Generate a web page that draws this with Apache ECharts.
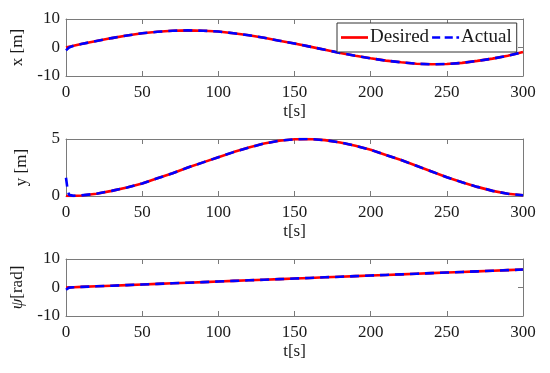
<!DOCTYPE html>
<html><head><meta charset="utf-8">
<script src="https://cdn.jsdelivr.net/npm/echarts@6/dist/echarts.min.js"></script>
<style>html,body{margin:0;padding:0;background:#fff}#c{width:550px;height:373px}</style>
</head><body><div id="c"></div>
<script>
const time = [0,1,2,3,5,10,20,30,40,50,60,70,80,90,100,110,120,130,140,150,160,170,180,190,200,210,220,230,240,250,260,270,280,290,300];
const xDesired = [0,0.12,0.24,0.36,0.6,1.2,2.3,3.3,4.2,5.0,5.5,5.9,6.0,5.9,5.6,5.0,4.3,3.4,2.4,1.4,0.3,-0.8,-1.9,-2.9,-3.8,-4.6,-5.2,-5.7,-5.9,-5.8,-5.4,-4.7,-3.9,-2.9,-1.6];
const xActual  = [-1.0,-0.4,0.0,0.3,0.6,1.2,2.3,3.3,4.2,5.0,5.5,5.9,6.0,5.9,5.6,5.0,4.3,3.4,2.4,1.4,0.3,-0.8,-1.9,-2.9,-3.8,-4.6,-5.2,-5.7,-5.9,-5.8,-5.4,-4.7,-3.9,-2.9,-1.6];
const yDesired = [0,0,0,0,0.01,0.05,0.2,0.45,0.75,1.1,1.55,2.0,2.5,2.95,3.4,3.85,4.25,4.6,4.85,4.98,5.0,4.9,4.7,4.4,4.05,3.6,3.15,2.65,2.15,1.65,1.2,0.8,0.45,0.2,0.07];
const yActual  = [1.6,0.6,0.1,0.02,0.01,0.05,0.2,0.45,0.75,1.1,1.55,2.0,2.5,2.95,3.4,3.85,4.25,4.6,4.85,4.98,5.0,4.9,4.7,4.4,4.05,3.6,3.15,2.65,2.15,1.65,1.2,0.8,0.45,0.2,0.07];
const psiDesired = [0,0.02,0.04,0.06,0.1,0.21,0.42,0.63,0.84,1.05,1.26,1.47,1.68,1.89,2.1,2.31,2.52,2.73,2.94,3.15,3.36,3.57,3.78,3.99,4.2,4.41,4.62,4.83,5.04,5.25,5.46,5.67,5.88,6.09,6.3];
const psiActual  = [-0.8,-0.3,-0.05,0.06,0.1,0.21,0.42,0.63,0.84,1.05,1.26,1.47,1.68,1.89,2.1,2.31,2.52,2.73,2.94,3.15,3.36,3.57,3.78,3.99,4.2,4.41,4.62,4.83,5.04,5.25,5.46,5.67,5.88,6.09,6.3];
const xTicks = [0,50,100,150,200,250,300];
const yLabels = ['x [m]','y [m]','{i|ψ}[rad]'];
const yRanges = [[-10,10,10],[0,5,5],[-10,10,10]];
const xLabel = 't[s]';
const legendNames = ['Desired','Actual'];

const FONT = 'Liberation Serif';
const FS = 17;
const axisCol = '#7a7a7a';
const txtCol = '#1a1a1a';
const tops = [19,139,259];
const grids = tops.map(t => ({left:66, right:27, top:t, height:57}));
const xAxes = [], yAxes = [], series = [];
const desiredSets = [xDesired, yDesired, psiDesired];
const actualSets = [xActual, yActual, psiActual];
const lineAx = {onZero:false,lineStyle:{color:axisCol,width:1}};
const tick = {show:true,inside:true,length:5,lineStyle:{color:axisCol}};
for (let i=0;i<3;i++){
  xAxes.push({gridIndex:i,type:'value',min:0,max:300,interval:50,position:'bottom',
    axisLine:lineAx,axisTick:tick,
    axisLabel:{color:txtCol,fontFamily:FONT,fontSize:FS,margin:8,formatter:v=>xTicks.includes(v)?String(v):''},splitLine:{show:false},
    name:xLabel,nameLocation:'middle',nameGap:27,nameTextStyle:{color:txtCol,fontFamily:FONT,fontSize:FS}});
  xAxes.push({gridIndex:i,type:'value',min:0,max:300,interval:50,position:'top',
    axisLine:lineAx,axisTick:tick,axisLabel:{show:false},splitLine:{show:false}});
  const r = yRanges[i];
  yAxes.push({gridIndex:i,type:'value',min:r[0],max:r[1],interval:r[2],position:'left',
    axisLine:Object.assign({show:true},lineAx),axisTick:tick,
    axisLabel:{color:txtCol,fontFamily:FONT,fontSize:FS,margin:6},splitLine:{show:false},
    name:yLabels[i],nameLocation:'middle',nameGap:36,nameRotate:90,
    nameTextStyle:{color:txtCol,fontFamily:FONT,fontSize:FS,rich:{i:{fontFamily:FONT,fontStyle:'italic',fontSize:FS,color:txtCol}}}});
  yAxes.push({gridIndex:i,type:'value',min:r[0],max:r[1],interval:r[2],position:'right',
    axisLine:Object.assign({show:true},lineAx),axisTick:tick,axisLabel:{show:false},splitLine:{show:false}});
  series.push({name:legendNames[0],type:'line',xAxisIndex:2*i,yAxisIndex:2*i,showSymbol:false,symbol:'none',
    data:time.map((t,k)=>[t,desiredSets[i][k]]),lineStyle:{color:'#ff0000',width:2.6},itemStyle:{color:'#ff0000'},z:2,animation:false});
  series.push({name:legendNames[1],type:'line',xAxisIndex:2*i,yAxisIndex:2*i,showSymbol:false,symbol:'none',
    data:time.map((t,k)=>[t,actualSets[i][k]]),lineStyle:{color:'#0000ff',width:2.6,type:[9,6]},itemStyle:{color:'#0000ff'},z:3,animation:false});
}
const chart = echarts.init(document.getElementById('c'),null,{renderer:'canvas'});
chart.setOption({
  animation:false,
  backgroundColor:'#fff',
  grid:grids, xAxis:xAxes, yAxis:yAxes, series:series,
  legend:{
    data:[
      {name:legendNames[0],icon:'path://M0 0H30V3H0Z',itemStyle:{color:'#ff0000'}},
      {name:legendNames[1],icon:'path://M0 0H9V3H0Z M14 0H23V3H14Z M27 0H30V3H27Z',itemStyle:{color:'#0000ff'}}
    ],
    left:337,top:23,padding:[5,5,5,4],itemGap:3,
    itemWidth:27,itemHeight:3,borderColor:'#333',borderWidth:1,backgroundColor:'#fff',
    textStyle:{fontFamily:FONT,fontSize:19,color:txtCol,padding:[0,0,0,-3]},selectedMode:false}
});
</script></body></html>
